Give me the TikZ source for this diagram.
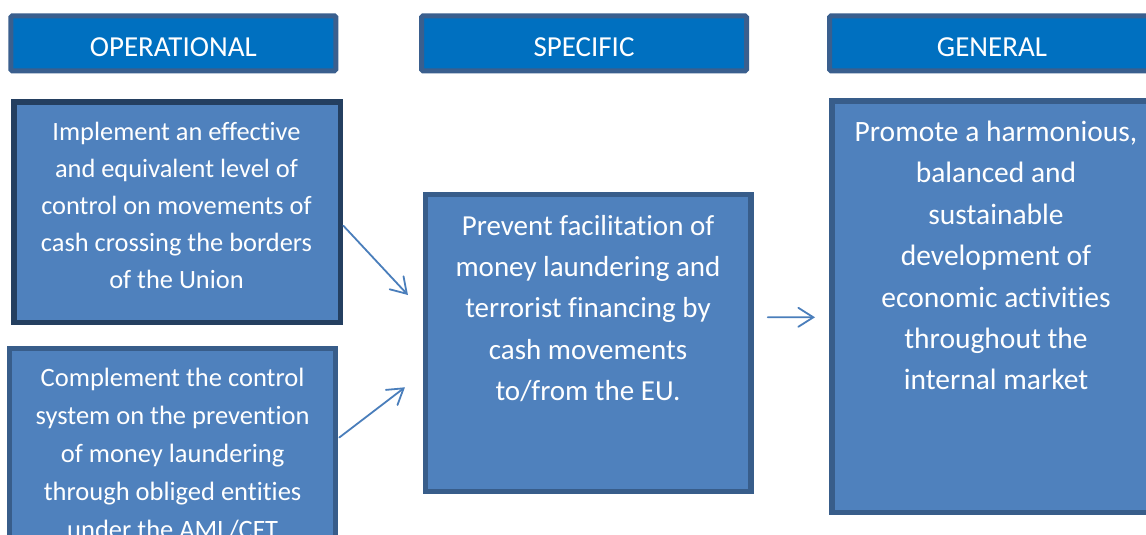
\documentclass[tikz,border=0pt]{standalone}
\usepackage{fontspec}
\setmainfont[Ligatures=NoCommon]{Carlito}
\usetikzlibrary{arrows.meta}
\definecolor{hdrfill}{HTML}{0070C0}
\definecolor{hdrline}{HTML}{3A5F8E}
\definecolor{boxfill}{HTML}{4F81BD}
\definecolor{boxline}{HTML}{385D8A}
\definecolor{darkline}{HTML}{243F60}
\definecolor{arrcol}{HTML}{4A7EBB}
\tikzset{
  hdr/.style={draw=hdrline, fill=hdrfill, line width=5pt, rounded corners=1.5pt,
    minimum width=325pt, minimum height=55pt, inner sep=0pt, text=white,
    font=\fontsize{29}{34}\selectfont, text height=27pt, text depth=0pt},
  box/.style={draw=boxline, fill=boxfill, line width=5.5pt, inner sep=0pt},
  txt/.style={text=white, inner sep=0pt, anchor=base},
  arr/.style={draw=arrcol, line width=1.8pt, line cap=round,
    -{Straight Barb[length=15pt, width=19pt, line cap=round]}}
}
\newcommand{\btext}[4]{\parbox[t]{#1}{\centering\fontsize{#2}{#3}\selectfont #4}}
\begin{document}
\begin{tikzpicture}[x=1pt, y=-1pt]
\useasboundingbox (0,0) rectangle (1146,535);
\clip (0,0) rectangle (1146,535);
\fill[white] (0,0) rectangle (1146,535);
% headers
\node[hdr] (h1) at (173.3,43.3) {OPERATIONAL};
\node[hdr] (h2) at (584,43.3) {SPECIFIC};
\node[hdr] (h3) at (992,43.3) {GENERAL};
% boxes
\node[box, draw=darkline, minimum width=326.8pt, minimum height=220.2pt] (b1) at (177.2,212.2) {};
\node[box, line width=5pt, minimum width=326pt, minimum height=249pt] (b2) at (172.8,473) {};
\node[box, minimum width=325.8pt, minimum height=296.8pt] (bm) at (588.3,342.9) {};
\node[box, minimum width=333pt, minimum height=411.2pt] (br) at (998.6,306.7) {};
% texts
\node[txt] (t1) at (176.5,140) {\btext{330pt}{26.4}{37.1}{Implement an effective\\ and equivalent level of\\ control on movements of\\ cash crossing the borders\\ of the Union}};
\node[txt] (t2) at (172.6,386) {\btext{330pt}{26.5}{38.2}{Complement the control\\ system on the prevention\\ of money laundering\\ through obliged entities\\ under the AML/CFT}};
\node[txt] (tm) at (588,235.3) {\btext{330pt}{29}{41.3}{Prevent facilitation of\\ money laundering and\\ terrorist financing by\\ cash movements\\ to/from the EU.}};
\node[txt] (tr) at (996,141.5) {\btext{330pt}{29.5}{41.4}{Promote a harmonious,\\ balanced and\\ sustainable\\ development of\\ economic activities\\ throughout the\\ internal market}};
% arrows
\draw[arr] ([yshift=-13.5pt]b1.east) -- ([xshift=-14.7pt, yshift=47.9pt]bm.west);
\draw[arr] ([xshift=1pt, yshift=-91.5pt]b2.north east) -- ([xshift=-17.7pt, yshift=-44.4pt]bm.west);
\draw[arr] ([xshift=13.75pt, yshift=25.6pt]bm.east) -- ([xshift=-14.35pt, yshift=-10.6pt]br.west);
\end{tikzpicture}
\end{document}
